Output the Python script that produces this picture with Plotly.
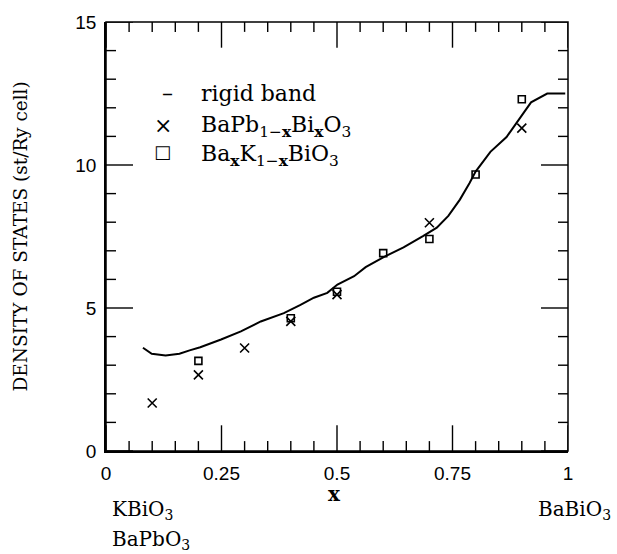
import plotly.graph_objects as go

# Rigid-band density of states at the Fermi level vs composition x
band_x = [0.080, 0.099, 0.129, 0.159, 0.181, 0.204, 0.249, 0.292, 0.335, 0.364,
          0.385, 0.421, 0.450, 0.479, 0.501, 0.537, 0.562, 0.601, 0.644, 0.687,
          0.716, 0.741, 0.766, 0.787, 0.800, 0.832, 0.867, 0.920, 0.955, 0.994]
band_y = [3.61, 3.40, 3.34, 3.40, 3.52, 3.63, 3.90, 4.18, 4.53, 4.70,
          4.82, 5.11, 5.36, 5.53, 5.82, 6.11, 6.43, 6.78, 7.12, 7.52,
          7.81, 8.22, 8.79, 9.37, 9.77, 10.46, 10.98, 12.19, 12.50, 12.50]

# BaPb(1-x)Bi(x)O3 supercell results
pb_x = [0.1, 0.2, 0.3, 0.4, 0.5, 0.7, 0.9]
pb_y = [1.68, 2.66, 3.60, 4.53, 5.47, 7.98, 11.29]

# Ba(x)K(1-x)BiO3 supercell results
k_x = [0.2, 0.4, 0.5, 0.6, 0.7, 0.8, 0.9]
k_y = [3.15, 4.64, 5.57, 6.92, 7.41, 9.67, 12.30]

x_ticks = [0, 0.25, 0.5, 0.75, 1]
x_tick_text = ["0", "0.25", "0.5", "0.75", "1"]
y_ticks = [0, 5, 10, 15]
y_tick_text = ["0", "5", "10", "15"]

# minor ticks: every 0.05 in x, every 1 in y
x_minor = [round(i * 0.05, 2) for i in range(21)]
y_minor = list(range(16))

X_RANGE = [0, 1]
Y_RANGE = [0, 15]

SERIF = "DejaVu Serif"
SANS = "Liberation Sans"

L, R, T, B = 106, 49, 17, 103
W, H = 617, 554
pw, ph = W - L - R, H - T - B

# inward tick marks on all four sides, built as one polyline with gaps;
# lengths are given in pixels and converted to axis units
x_unit_per_px = (X_RANGE[1] - X_RANGE[0]) / pw
y_unit_per_px = (Y_RANGE[1] - Y_RANGE[0]) / ph
tick_xs, tick_ys = [], []


def add_x_ticks(values, length_px):
    d = length_px * y_unit_per_px
    for v in values:
        tick_xs.extend([v, v, None, v, v, None])
        tick_ys.extend([Y_RANGE[0], Y_RANGE[0] + d, None, Y_RANGE[1], Y_RANGE[1] - d, None])


def add_y_ticks(values, length_px):
    d = length_px * x_unit_per_px
    for v in values:
        tick_xs.extend([X_RANGE[0], X_RANGE[0] + d, None, X_RANGE[1], X_RANGE[1] - d, None])
        tick_ys.extend([v, v, None, v, v, None])


add_x_ticks(x_ticks, 26)
add_x_ticks([v for v in x_minor if v not in x_ticks], 10)
add_y_ticks(y_ticks, 27)
add_y_ticks([v for v in y_minor if v not in y_ticks], 10)

fig = go.Figure()
fig.add_trace(go.Scatter(x=tick_xs, y=tick_ys, mode="lines", hoverinfo="skip",
                         line=dict(color="black", width=1.4), connectgaps=False,
                         name="ticks"))
fig.add_trace(go.Scatter(x=band_x, y=band_y, mode="lines",
                         line=dict(color="black", width=2), name="rigid band"))
fig.add_trace(go.Scatter(x=pb_x, y=pb_y, mode="markers",
                         marker=dict(symbol="x-thin-open", size=9, color="black",
                                     line=dict(color="black", width=1.6)),
                         name="BaPbBiO3"))
fig.add_trace(go.Scatter(x=k_x, y=k_y, mode="markers",
                         marker=dict(symbol="square-open", size=7, color="black",
                                     line=dict(color="black", width=1.6)),
                         name="BaKBiO3"))

fig.update_layout(
    xaxis=dict(range=X_RANGE, tickmode="array", tickvals=x_ticks, ticktext=x_tick_text,
               ticks="", showgrid=False, zeroline=False, ticklabelstandoff=4,
               showline=True, linecolor="black", linewidth=1.5,
               tickfont=dict(family=SANS, size=19, color="black")),
    yaxis=dict(range=Y_RANGE, tickmode="array", tickvals=y_ticks, ticktext=y_tick_text,
               ticks="", showgrid=False, zeroline=False, ticklabelstandoff=4,
               showline=True, linecolor="black", linewidth=1.5,
               tickfont=dict(family=SANS, size=19, color="black")),
)

# plot frame
shapes = [dict(type="rect", xref="paper", yref="paper", x0=0, x1=1, y0=0, y1=1,
               line=dict(color="black", width=1.5), layer="above")]


def px(xp):
    return (xp - L) / pw


def py(yp):
    return (H - B - yp) / ph


ann = []
# legend glyphs and labels
leg_font = dict(family=SERIF, size=22, color="black")
ann.append(dict(x=px(167), y=py(89), text="–", font=leg_font,
                xanchor="center", yanchor="middle"))
ann.append(dict(x=px(163), y=py(122), text="×", font=leg_font,
                xanchor="center", yanchor="middle"))
ann.append(dict(x=px(162), y=py(148), text="□", font=dict(family=SERIF, size=18, color="black"),
                xanchor="center", yanchor="middle"))
ann.append(dict(x=px(199), y=py(89), text="rigid band", font=leg_font,
                xanchor="left", yanchor="middle"))
ann.append(dict(x=px(199), y=py(123),
                text="BaPb<sub>1−<b>x</b></sub>Bi<sub><b>x</b></sub>O<sub>3</sub>",
                font=leg_font, xanchor="left", yanchor="middle"))
ann.append(dict(x=px(199), y=py(152),
                text="Ba<sub><b>x</b></sub>K<sub>1−<b>x</b></sub>BiO<sub>3</sub>",
                font=leg_font, xanchor="left", yanchor="middle"))

# axis titles
ann.append(dict(x=px(334), y=py(495), text="<b>x</b>",
                font=dict(family=SERIF, size=20, color="black"),
                xanchor="center", yanchor="middle"))
ann.append(dict(x=px(20), y=0.5, text="DENSITY OF STATES (st/Ry cell)",
                font=dict(family=SERIF, size=18.5, color="black"), textangle=-90,
                xanchor="center", yanchor="middle"))

# end-member compounds
end_font = dict(family=SERIF, size=20, color="black")
ann.append(dict(x=px(110), y=py(511), text="KBiO<sub>3</sub>", font=end_font,
                xanchor="left", yanchor="middle"))
ann.append(dict(x=px(110), y=py(541), text="BaPbO<sub>3</sub>", font=end_font,
                xanchor="left", yanchor="middle"))
ann.append(dict(x=px(613), y=py(511), text="BaBiO<sub>3</sub>", font=end_font,
                xanchor="right", yanchor="middle"))

for a in ann:
    a.update(xref="paper", yref="paper", showarrow=False)

fig.update_layout(
    width=W, height=H,
    margin=dict(l=L, r=R, t=T, b=B, pad=0),
    paper_bgcolor="white", plot_bgcolor="white",
    showlegend=False,
    annotations=ann,
    shapes=shapes,
)

fig.write_html("out.html")
